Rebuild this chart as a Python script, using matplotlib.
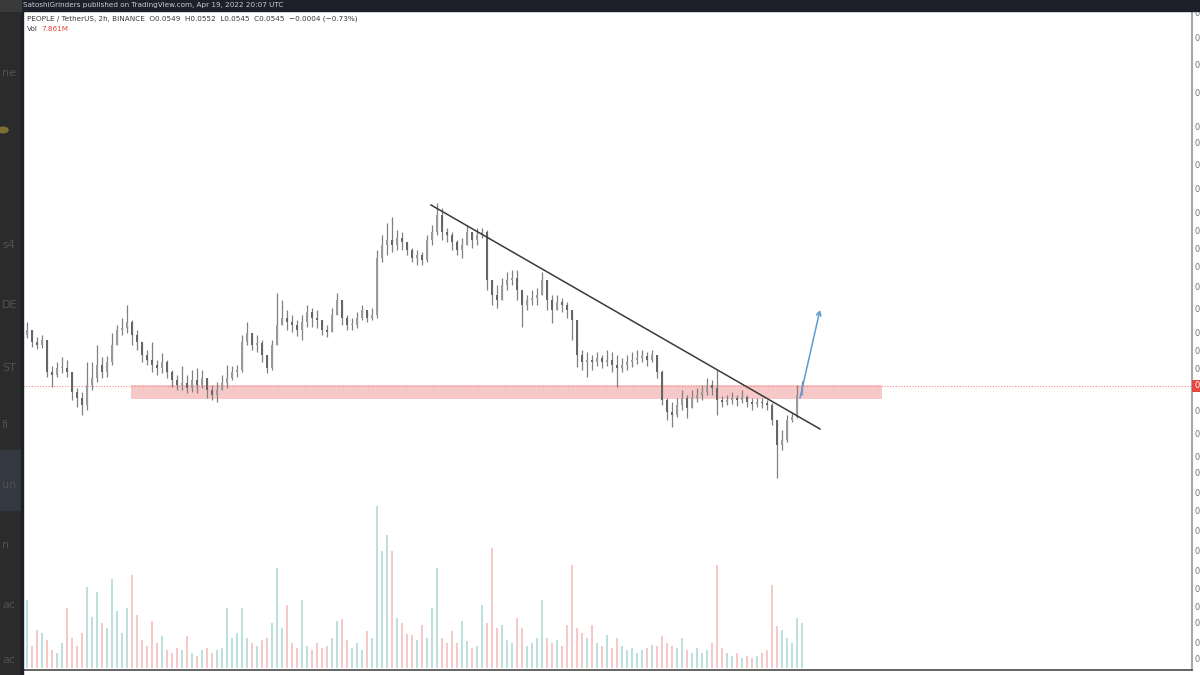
import matplotlib
matplotlib.use('Agg')
import matplotlib.pyplot as plt
import numpy as np
from matplotlib.patches import Rectangle, FancyArrowPatch

# ---------------- data (PEOPLE/USDT 2h) ----------------
close = [0.0596, 0.0601, 0.0589, 0.0586, 0.0591, 0.0559, 0.0556, 0.0563, 0.0563, 0.0559,
         0.0539, 0.0533, 0.0526, 0.0546, 0.0553, 0.0566, 0.0559, 0.0569, 0.0586, 0.0601,
         0.0603, 0.0609, 0.0596, 0.0589, 0.0576, 0.0571, 0.0566, 0.0563, 0.0569, 0.0559,
         0.0551, 0.0546, 0.0548, 0.0543, 0.0551, 0.0546, 0.0553, 0.0541, 0.0536, 0.0541,
         0.0548, 0.0553, 0.0559, 0.0561, 0.0589, 0.0598, 0.0586, 0.0588, 0.0576, 0.0563,
         0.0586, 0.0606, 0.0613, 0.0609, 0.0606, 0.0601, 0.0609, 0.0619, 0.0613, 0.0611,
         0.0601, 0.0599, 0.0616, 0.0631, 0.0613, 0.0606, 0.0606, 0.0613, 0.0621, 0.0613,
         0.0616, 0.0673, 0.0686, 0.0691, 0.0686, 0.0693, 0.0689, 0.0681, 0.0673, 0.0676,
         0.0671, 0.0691, 0.0699, 0.0716, 0.0699, 0.0696, 0.0689, 0.0681, 0.0686, 0.0699,
         0.0691, 0.0696, 0.0699, 0.0651, 0.0636, 0.0631, 0.0646, 0.0651, 0.0653, 0.0641,
         0.0626, 0.0631, 0.0633, 0.0636, 0.0651, 0.0631, 0.0621, 0.0629, 0.0626, 0.0621,
         0.0611, 0.0576, 0.0569, 0.0571, 0.0569, 0.0573, 0.0569, 0.0571, 0.0566, 0.0563,
         0.0566, 0.0569, 0.0571, 0.0573, 0.0575, 0.0571, 0.0576, 0.0559, 0.0531, 0.0519,
         0.0516, 0.0526, 0.0533, 0.0523, 0.0533, 0.0536, 0.0539, 0.0546, 0.0543, 0.0531,
         0.0529, 0.0531, 0.0533, 0.0531, 0.0534, 0.0529, 0.0527, 0.0529, 0.0528, 0.0526,
         0.0511, 0.0486, 0.0491, 0.0511, 0.0514, 0.0536, 0.0545]

high = [0.0603, 0.0609, 0.0601, 0.0594, 0.0596, 0.0591, 0.0565, 0.0569, 0.0574, 0.0571,
        0.0559, 0.0543, 0.0539, 0.0569, 0.0569, 0.0586, 0.0574, 0.0575, 0.0598, 0.0606,
        0.0613, 0.0626, 0.0611, 0.0601, 0.0586, 0.0581, 0.0589, 0.0571, 0.0578, 0.0571,
        0.0561, 0.0556, 0.0565, 0.0556, 0.0561, 0.0563, 0.0561, 0.0553, 0.0546, 0.0549,
        0.0556, 0.0566, 0.0565, 0.0566, 0.0596, 0.0609, 0.0598, 0.0596, 0.0591, 0.0576,
        0.0591, 0.0638, 0.0631, 0.0621, 0.0616, 0.0611, 0.0616, 0.0626, 0.0623, 0.0621,
        0.0611, 0.0606, 0.0623, 0.0638, 0.0626, 0.0616, 0.0613, 0.0619, 0.0626, 0.0621,
        0.0623, 0.0681, 0.0696, 0.0708, 0.0714, 0.0701, 0.0699, 0.0689, 0.0683, 0.0681,
        0.0679, 0.0696, 0.0706, 0.0728, 0.0723, 0.0703, 0.0699, 0.0691, 0.0693, 0.0706,
        0.0699, 0.0703, 0.0703, 0.0701, 0.0651, 0.0646, 0.0653, 0.0659, 0.0661, 0.0661,
        0.0641, 0.0636, 0.0641, 0.0643, 0.0659, 0.0649, 0.0636, 0.0636, 0.0633, 0.0629,
        0.0619, 0.0611, 0.0581, 0.0579, 0.0576, 0.0579, 0.0576, 0.0581, 0.0579, 0.0576,
        0.0573, 0.0576, 0.0579, 0.0581, 0.0581, 0.0579, 0.0581, 0.0576, 0.0561, 0.0533,
        0.0529, 0.0533, 0.0541, 0.0536, 0.0541, 0.0543, 0.0546, 0.0553, 0.0551, 0.0561,
        0.0535, 0.0536, 0.0539, 0.0536, 0.0541, 0.0536, 0.0533, 0.0533, 0.0533, 0.0531,
        0.0528, 0.0511, 0.0501, 0.0516, 0.0519, 0.0546, 0.0550]

low = [0.0591, 0.0593, 0.0584, 0.0582, 0.0583, 0.0554, 0.0544, 0.0554, 0.0558, 0.0554,
       0.0531, 0.0524, 0.0516, 0.0521, 0.0541, 0.0549, 0.0553, 0.0554, 0.0566, 0.0591,
       0.0596, 0.0598, 0.0586, 0.0581, 0.0569, 0.0566, 0.0559, 0.0556, 0.0558, 0.0553,
       0.0544, 0.0541, 0.0541, 0.0538, 0.0539, 0.0538, 0.0543, 0.0533, 0.0531, 0.0529,
       0.0541, 0.0543, 0.0551, 0.0554, 0.0559, 0.0586, 0.0581, 0.0579, 0.0569, 0.0558,
       0.0561, 0.0591, 0.0606, 0.0601, 0.0599, 0.0595, 0.0591, 0.0604, 0.0604, 0.0603,
       0.0596, 0.0594, 0.0601, 0.0616, 0.0606, 0.0601, 0.0601, 0.0603, 0.0611, 0.0609,
       0.0611, 0.0613, 0.0669, 0.0676, 0.0679, 0.0681, 0.0681, 0.0676, 0.0669, 0.0666,
       0.0666, 0.0669, 0.0686, 0.0696, 0.0691, 0.0689, 0.0681, 0.0676, 0.0673, 0.0689,
       0.0683, 0.0686, 0.0693, 0.0641, 0.0626, 0.0623, 0.0636, 0.0641, 0.0646, 0.0631,
       0.0604, 0.0621, 0.0626, 0.0626, 0.0636, 0.0621, 0.0608, 0.0621, 0.0619, 0.0613,
       0.0591, 0.0564, 0.0561, 0.0554, 0.0561, 0.0565, 0.0563, 0.0565, 0.0559, 0.0544,
       0.0559, 0.0561, 0.0564, 0.0567, 0.0569, 0.0565, 0.0569, 0.0553, 0.0526, 0.0511,
       0.0504, 0.0514, 0.0521, 0.0513, 0.0526, 0.0529, 0.0531, 0.0536, 0.0536, 0.0516,
       0.0524, 0.0526, 0.0527, 0.0525, 0.0528, 0.0524, 0.0521, 0.0524, 0.0523, 0.0521,
       0.0506, 0.0453, 0.0481, 0.0489, 0.0509, 0.0513, 0.0536]

volume_m = [5.3, 11.9, 3.9, 6.7, 6.1, 4.9, 3.2, 2.6, 4.4, 10.5,
            5.3, 3.9, 6.1, 14.2, 8.9, 13.3, 7.9, 7.0, 15.6, 10.0,
            6.1, 10.5, 16.3, 9.3, 4.9, 3.9, 8.2, 4.4, 5.6, 3.2,
            2.6, 3.5, 3.2, 5.6, 2.6, 2.1, 3.2, 3.5, 2.6, 3.2,
            3.5, 10.5, 5.3, 6.1, 10.5, 5.3, 4.4, 3.9, 4.9, 5.3,
            7.9, 17.5, 7.0, 11.0, 4.4, 3.5, 11.9, 3.9, 3.2, 4.4,
            3.5, 3.9, 5.3, 8.2, 8.6, 4.9, 3.5, 4.4, 3.2, 6.5,
            5.3, 28.5, 20.5, 23.3, 20.5, 8.8, 7.9, 6.0, 5.8, 4.9,
            7.5, 5.3, 10.5, 17.5, 5.3, 4.4, 6.5, 4.4, 8.2, 4.7,
            3.5, 3.9, 11.0, 7.9, 21.0, 7.0, 7.5, 4.9, 4.4, 8.8,
            7.0, 3.9, 4.4, 5.3, 11.9, 5.3, 4.4, 4.9, 3.9, 7.5,
            18.0, 7.0, 6.1, 5.3, 7.5, 4.4, 3.9, 5.8, 3.5, 5.3,
            3.9, 3.2, 3.5, 2.6, 3.2, 3.5, 4.0, 3.9, 5.6, 4.4,
            3.9, 3.5, 5.3, 3.2, 2.6, 3.5, 2.6, 3.2, 4.4, 18.0,
            3.5, 2.6, 2.1, 2.6, 1.8, 2.1, 1.8, 2.1, 2.6, 3.2,
            14.5, 7.4, 6.7, 5.3, 4.4, 8.8, 7.9]

# right price-scale tick positions (labels are cut by the screenshot edge, only "0" shows)
price_ticks = [0.0919, 0.0894, 0.0867, 0.0838, 0.0804, 0.0788, 0.0766, 0.0743, 0.0719,
               0.0701, 0.0683, 0.0664, 0.0644, 0.0623, 0.0599, 0.0581, 0.0563, 0.0521,
               0.0498, 0.0474, 0.0458, 0.0439, 0.0421, 0.0401, 0.0381, 0.0361, 0.0343,
               0.0324, 0.0308, 0.0289, 0.0273]
tick_text = '0'

last_price = 0.0545
zone_low, zone_high = 0.0532, 0.0546
zone_start, zone_end = 21.8, 172.0
trend_start = (81.8, 0.0726)
trend_end = (159.6, 0.0502)
arrow_start = (155.6, 0.0533)
arrow_end = (159.6, 0.0621)

# ---------------- figure ----------------
W, H = 1200, 675
fig = plt.figure(figsize=(12, 6.75), dpi=100)
fig.patch.set_facecolor('white')

def frect(x, y, w, h, color, z=0):
    fig.patches.append(Rectangle((x / W, 1 - (y + h) / H), w / W, h / H,
                                 transform=fig.transFigure, color=color, zorder=z))

# dark screenshot surroundings
frect(0, 0, 21, H, '#2b2b2b')
frect(0, 450, 21, 60, '#343941')
frect(21, 0, 2, H, '#1d2029')
frect(0, 0, W, 11, '#1d2029')
frect(0, 0, 21, 11, '#3a3a3a')

for ty, tt in [(73, 'ne'), (245, 's4'), (305, 'DE'), (368, 'ST'), (425, 'fi'),
               (485, 'un'), (545, 'n'), (605, 'ac'), (660, 'ac')]:
    fig.text(2 / W, 1 - ty / H, tt, color='#505050', fontsize=8, va='center', ha='left')
fig.patches.append(plt.Circle((3 / W, 1 - 130 / H), 5 / W, transform=fig.transFigure,
                              color='#7d6f30', zorder=1))

fig.text(23 / W, 1 - 5.5 / H, 'SatoshiGrinders published on TradingView.com, Apr 19, 2022 20:07 UTC',
         color='#c9ccd4', fontsize=5.2, va='center', ha='left')

rect = [23 / W, 5 / H, 1169 / W, 659 / H]
axv = fig.add_axes(rect, label='vol')
ax = fig.add_axes(rect, label='price')
ax.set_facecolor('none')

n = len(close)
x = np.arange(n)
c = np.array(close)
o = np.concatenate([[c[0]], c[:-1]])
hi = np.maximum.reduce([np.array(high), o, c])
lo = np.minimum.reduce([np.array(low), o, c])
up = c >= o

# volume
vcol = np.where(up, '#bde0dc', '#f6c8c8')
axv.bar(x, volume_m, width=0.5, color=vcol, linewidth=0)
axv.set_ylim(-0.35, 115.3)
axv.set_xlim(0.2, 234)
axv.axis('off')

# zone
ax.add_patch(Rectangle((zone_start, zone_low), zone_end - zone_start, zone_high - zone_low,
                       facecolor='#f7c8c8', edgecolor='none', zorder=1))
# last price line
ax.axhline(last_price, color='#f08a88', lw=0.8, ls=(0, (1, 1.5)), zorder=1.5)

# candles
ax.vlines(x, lo, hi, color='#808080', lw=0.9, zorder=3)
body_lo = np.minimum(o, c)
body_h = np.maximum(np.abs(c - o), 0.00006)
ax.bar(x, body_h, bottom=body_lo, width=0.42,
       color=np.where(up, '#9a9a9a', '#666666'), linewidth=0, zorder=3)

# trendline
ax.plot([trend_start[0], trend_end[0]], [trend_start[1], trend_end[1]],
        color='#3a3a3a', lw=1.1, zorder=4)
# blue arrow
ax.add_patch(FancyArrowPatch(arrow_start, arrow_end, arrowstyle='->,head_length=3,head_width=1.6',
                             color='#5d9bd6', lw=1.1, zorder=5, shrinkA=0, shrinkB=0))

ax.set_xlim(0.2, 234)
ax.set_ylim(0.0261, 0.0920)
ax.set_xticks([])
ax.yaxis.tick_right()
ax.set_yticks(price_ticks)
ax.set_yticklabels([tick_text] * len(price_ticks))
ax.tick_params(axis='y', length=0, pad=1.5, labelsize=6, labelcolor='#777777')
for s in ['top', 'left']:
    ax.spines[s].set_visible(False)
ax.spines['right'].set_color('#a8a8a8')
ax.spines['right'].set_linewidth(1.5)
ax.spines['bottom'].set_color('#4a4a4a')
ax.spines['bottom'].set_linewidth(1.2)

# last price marker on axis
ax.add_patch(Rectangle((1.0, last_price - 0.0006), 0.01, 0.0012, transform=ax.get_yaxis_transform(),
                       facecolor='#e5463f', edgecolor='none', clip_on=False, zorder=6))
ax.annotate(tick_text, xy=(1, last_price), xycoords=('axes fraction', 'data'),
            xytext=(1.5, 0), textcoords='offset points', va='center', ha='left',
            fontsize=6, color='white', zorder=7)

# legend header
ax.text(4 / 1169, 1 - 8 / 659,
        'PEOPLE / TetherUS, 2h, BINANCE  O0.0549  H0.0552  L0.0545  C0.0545  \u22120.0004 (\u22120.73%)',
        transform=ax.transAxes, fontsize=5.2, color='#3a3a3a', va='center', ha='left')
ax.text(4 / 1169, 1 - 18 / 659, 'Vol', transform=ax.transAxes, fontsize=5.2,
        color='#3a3a3a', va='center', ha='left')
ax.text(18 / 1169, 1 - 18 / 659, '7.861M', transform=ax.transAxes, fontsize=5.2,
        color='#e5463f', va='center', ha='left')

fig.savefig('out.png', dpi=100, facecolor=fig.get_facecolor())
